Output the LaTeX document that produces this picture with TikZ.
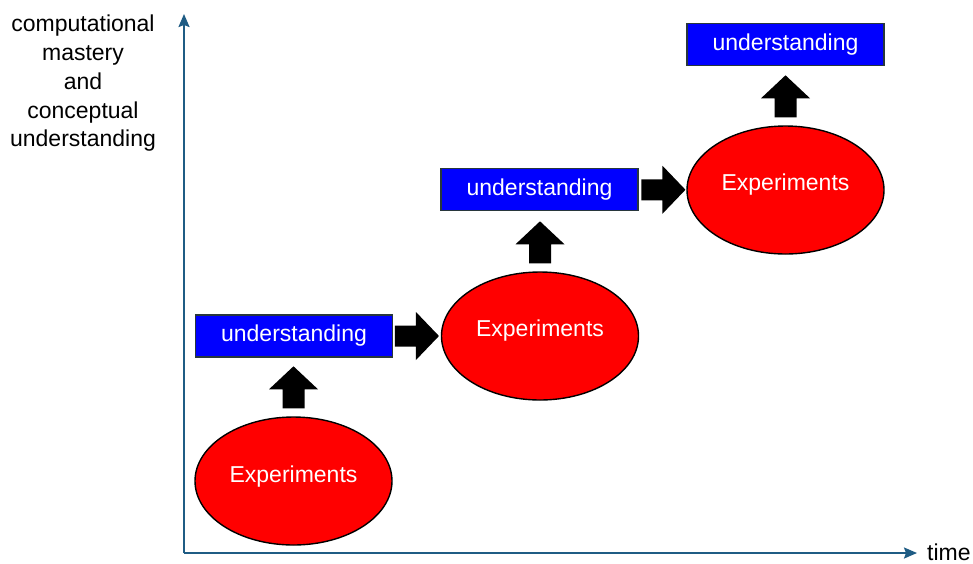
\documentclass[tikz,border=0pt]{standalone}
\usepackage{fontspec}
\setmainfont{Liberation Sans}
\usetikzlibrary{shapes.geometric,arrows.meta,calc}
\definecolor{axiscol}{RGB}{31,92,132}
\definecolor{boxblue}{RGB}{0,0,255}
\definecolor{boxedge}{RGB}{40,55,60}
\definecolor{ellred}{RGB}{255,0,0}
\newcommand\uparr[1]{\fill[blk,shift={(#1)}] (-11,0) -- (11,0) -- (11,-19) -- (24.5,-19) -- (0,-42) -- (-24.5,-19) -- (-11,-19) -- cycle;}
\newcommand\rightarr[1]{\fill[blk,shift={(#1)}] (0,-10.5) -- (21,-10.5) -- (21,-24) -- (44,0) -- (21,24) -- (21,10.5) -- (0,10.5) -- cycle;}
\begin{document}
\begin{tikzpicture}[x=1pt,y=-1pt,
  txt/.style={font=\fontsize{23}{28.75}\selectfont},
  ubox/.style={txt,draw=boxedge,line width=1.2pt,fill=boxblue,text=white,minimum width=197pt,minimum height=42pt,inner sep=0pt},
  ell/.style={ellipse,draw=black,line width=1.4pt,fill=ellred,minimum width=197pt,minimum height=128pt,inner sep=0pt},
  ellt/.style={txt,text=white,inner sep=0pt,anchor=base},
  blk/.style={fill=black},
  axis/.style={draw=axiscol,line width=2pt,-{Stealth[length=13pt,width=11pt,inset=2pt]}}]
\useasboundingbox (0,0) rectangle (973,563);
% axes
\coordinate (O) at (184,553);
\coordinate (ytop) at (184,14);
\coordinate (xend) at (917,553);
\draw[axis] (O) -- (ytop);
\draw[axis] (O) -- (xend);
\node[txt,anchor=base west,inner sep=0pt] (time) at (927,560) {time};
\node[txt,align=center,anchor=north,inner sep=0pt] (ylab) at (83,15) {computational\\mastery\\and\\conceptual\\understanding};
% ellipses
\node[ell] (e1) at (293.5,481) {};
\node[ell] (e2) at (540,336) {};
\node[ell] (e3) at (785.5,190) {};
\node[ellt] (t1) at ([yshift=-1pt]e1.center) {Experiments};
\node[ellt] (t2) at (e2.center) {Experiments};
\node[ellt] (t3) at (e3.center) {Experiments};
% boxes
\node[ubox] (u1) at (294,336) {understanding};
\node[ubox] (u2) at (539.5,189.5) {understanding};
\node[ubox] (u3) at (785.5,44.5) {understanding};
% block arrows
\coordinate (a1) at ($(e1.north)+(0,-8)$);
\coordinate (a2) at ($(e2.north)+(0,-8)$);
\coordinate (a3) at ($(e3.north)+(0,-8)$);
\coordinate (r1) at ($(u1.east)!0.5!(e2.west)+(-22,0)$);
\coordinate (r2) at ($(u2.east)!0.5!(e3.west)+(-21,0)$);
\uparr{a1}
\uparr{a2}
\uparr{a3}
\rightarr{r1}
\rightarr{r2}
\end{tikzpicture}
\end{document}
